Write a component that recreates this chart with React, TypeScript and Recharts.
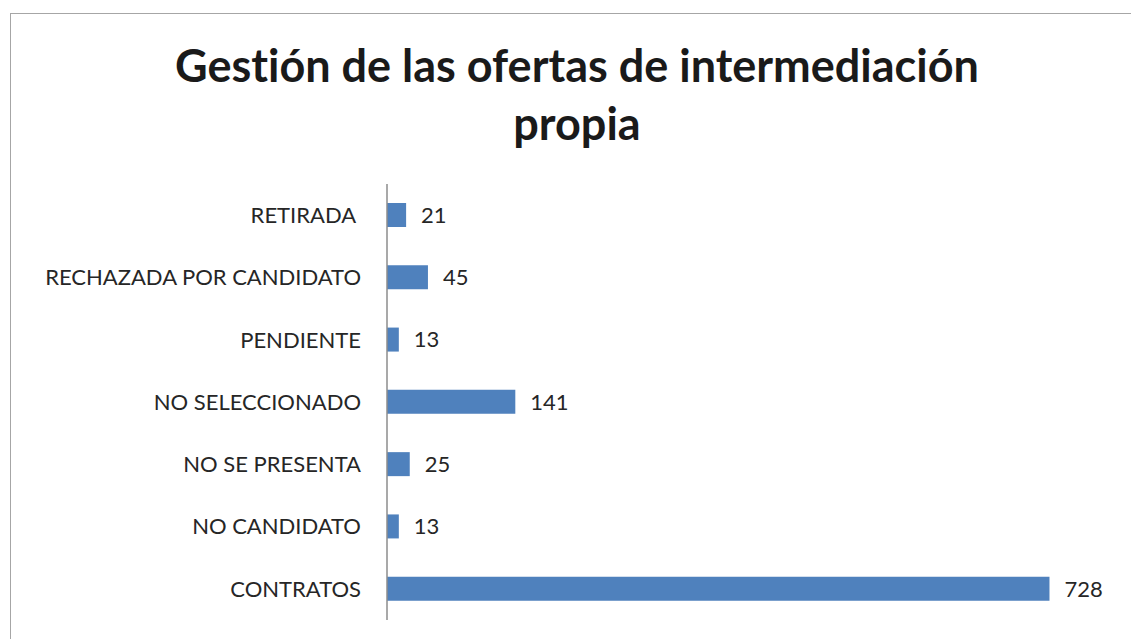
import { BarChart, Bar, XAxis, YAxis, LabelList } from "recharts";

const categories = [
  "RETIRADA\u00a0",
  "RECHAZADA POR CANDIDATO",
  "PENDIENTE",
  "NO SELECCIONADO",
  "NO SE PRESENTA",
  "NO CANDIDATO",
  "CONTRATOS",
];
const values = [21, 45, 13, 141, 25, 13, 728];
const xDomain = [0, 800];

const data = categories.map((name, i) => ({ name, value: values[i] }));

const FONT = "Lato, 'Open Sans', sans-serif";

export default function App() {
  return (
    <div
      style={{
        position: "absolute",
        left: 0,
        top: 0,
        width: 1131,
        height: 639,
        overflow: "hidden",
        background: "#fff",
        fontFamily: FONT,
        fontVariantLigatures: "none",
      }}
    >
      <div
        style={{
          position: "absolute",
          left: 10,
          top: 13,
          width: 1140,
          height: 660,
          border: "1px solid #a6a6a6",
        }}
      />
      <div
        style={{
          position: "absolute",
          left: 0,
          top: 36,
          width: 1154,
          textAlign: "center",
          fontSize: 45,
          fontWeight: 700,
          lineHeight: "58px",
          color: "#1a1a1a",
        }}
      >
        Gestión de las ofertas de intermediación
        <br />
        propia
      </div>
      <div style={{ position: "absolute", left: 0, top: 0 }}>
        <BarChart
          width={1131}
          height={639}
          data={data}
          layout="vertical"
          margin={{ top: 184, right: 16, bottom: 19, left: 0 }}
          barCategoryGap="61%"
        >
          <XAxis type="number" domain={xDomain} hide />
          <YAxis
            type="category"
            dataKey="name"
            width={387}
            axisLine={{ stroke: "#8c8c8c", strokeWidth: 1.5 }}
            tickLine={false}
            tickSize={0}
            tickMargin={26}
            interval={0}
            tick={{ fill: "#262626", fontSize: 22, fontFamily: FONT }}
          />
          <Bar dataKey="value" fill="#4f81bd" barSize={24} isAnimationActive={false}>
            <LabelList
              dataKey="value"
              position="right"
              offset={15}
              style={{ fill: "#262626", fontSize: 22, fontFamily: FONT }}
            />
          </Bar>
        </BarChart>
      </div>
    </div>
  );
}
